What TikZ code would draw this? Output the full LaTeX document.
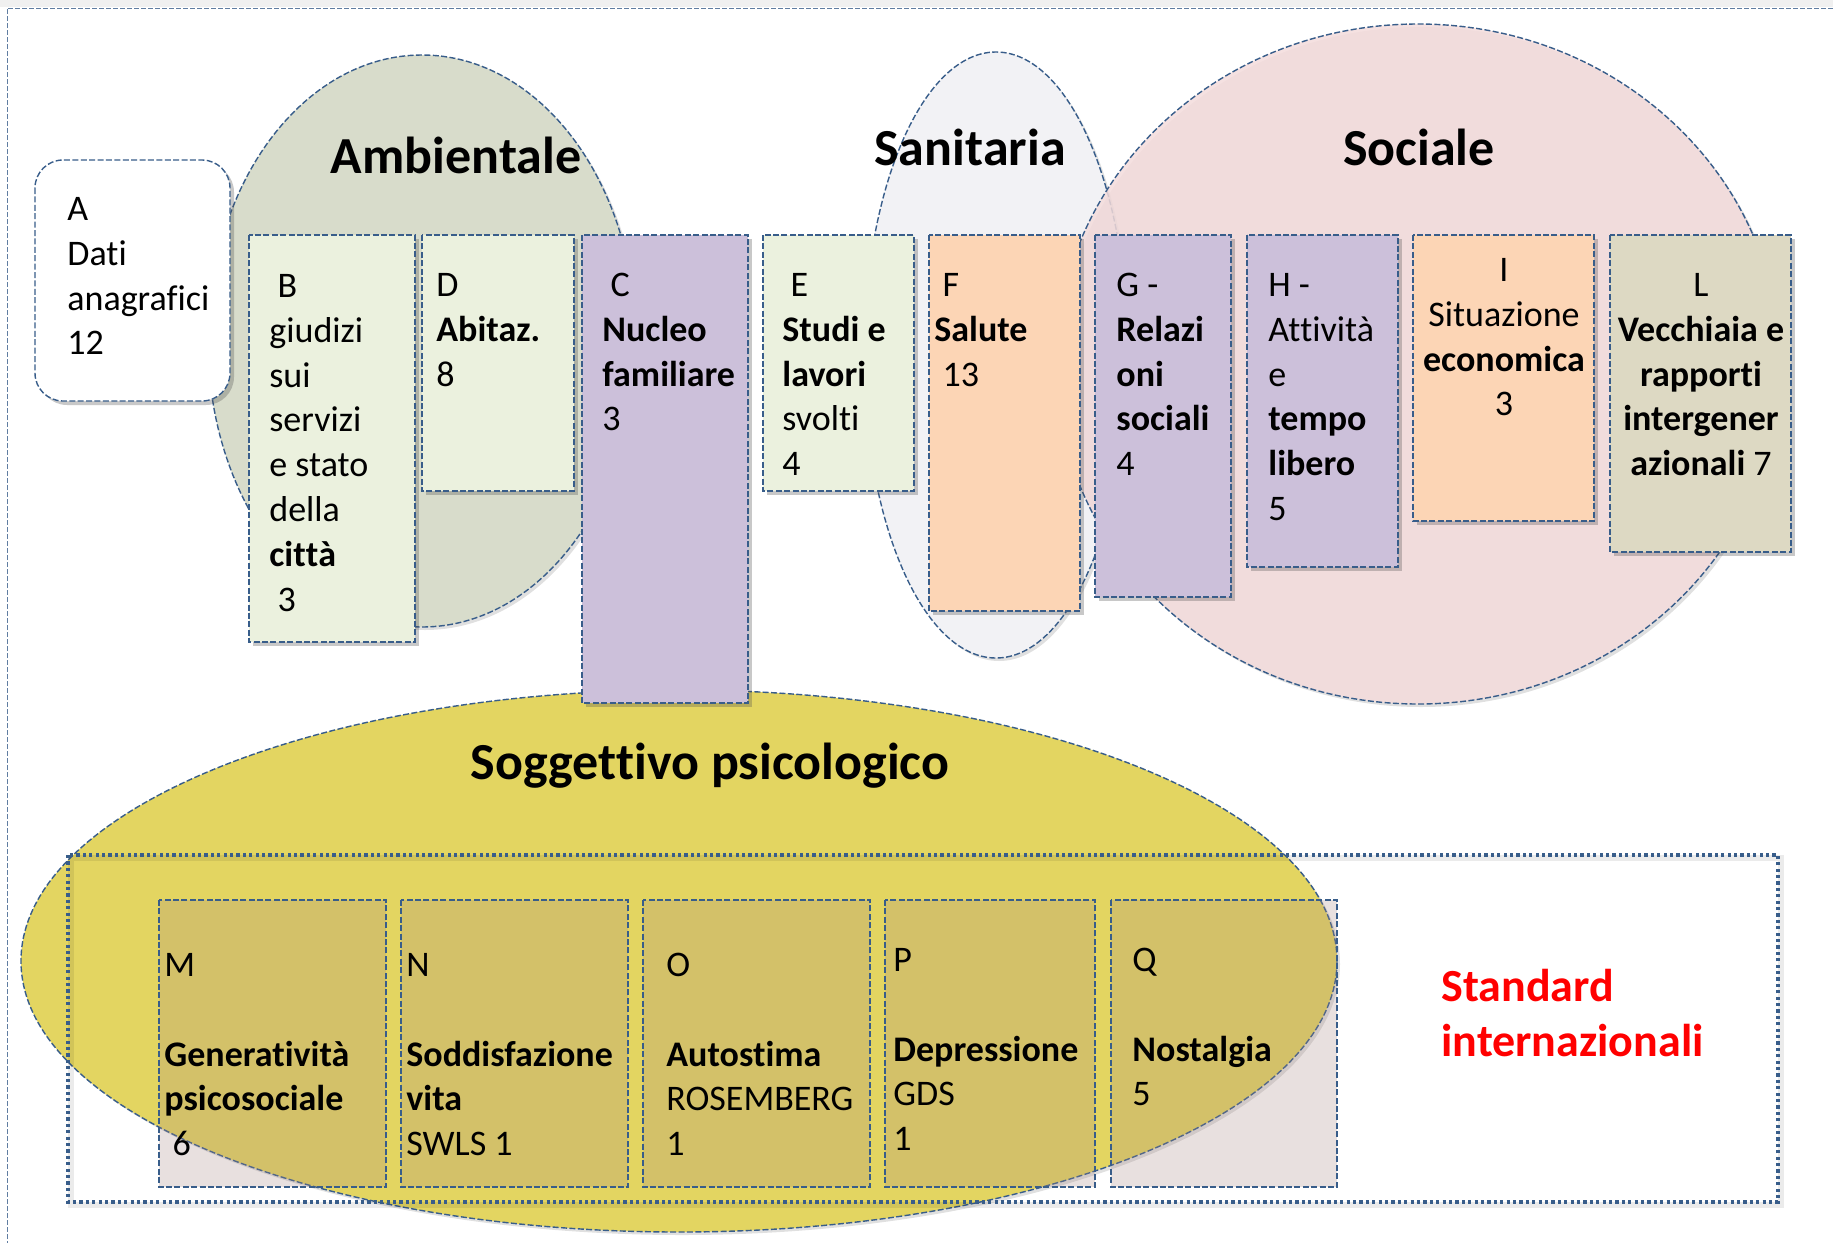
\documentclass[tikz,border=0pt]{standalone}
\usepackage{fontspec}
\setmainfont[Ligatures=NoCommon]{Carlito}
\usetikzlibrary{shadows}
\definecolor{bordc}{RGB}{56,93,138}
\definecolor{ambc}{RGB}{216,220,203}
\definecolor{sanc}{RGB}{242,242,245}
\definecolor{socc}{RGB}{244,220,220}
\definecolor{yelc}{RGB}{227,213,97}
\definecolor{grnc}{RGB}{235,241,222}
\definecolor{purc}{RGB}{204,192,218}
\definecolor{peac}{RGB}{252,213,181}
\definecolor{tanc}{RGB}{221,217,195}
\definecolor{botc}{RGB}{167,135,131}
\definecolor{topband}{RGB}{240,240,240}
\newcommand\st{\rule{0pt}{15pt}}
\newcommand\nl{\kern0pt }
\begin{document}
\begin{tikzpicture}[x=0.5pt,y=-0.5pt,
  bd/.style={draw=bordc, line width=0.7pt, dash pattern=on 3pt off 1.2pt},
  boxsh/.style={bd, drop shadow={shadow xshift=2pt, shadow yshift=-2pt, opacity=0.3, fill=black!70}},
  ellsh/.style={bd, drop shadow={shadow xshift=1.5pt, shadow yshift=-1.5pt, opacity=0.12, fill=black}},
  tx/.style={anchor=north west, inner sep=0pt, align=left, font=\fontsize{18}{22.4}\selectfont},
  txc/.style={tx, anchor=north, align=center},
  title/.style={inner sep=0pt, anchor=base, font=\fontsize{26}{30}\selectfont\bfseries}]
\useasboundingbox (0,0) rectangle (1833,1243);
\fill[white] (0,0) rectangle (1833,1243);
\fill[topband] (0,0) rectangle (1833,7);
\draw[draw=bordc!80, line width=0.5pt, dash pattern=on 2.5pt off 1pt] (7,1260) -- (7,8) -- (1850,8);

% ellipses
\path[ellsh, fill=ambc] (422,341) ellipse [x radius=107pt, y radius=143pt];
\path[ellsh, fill=sanc] (996,355) ellipse [x radius=66pt, y radius=151.5pt];
\path[ellsh, fill=socc, fill opacity=0.85] (1418,364) ellipse [x radius=181pt, y radius=170pt];
\path[ellsh, fill=yelc] (679,961) ellipse [x radius=329pt, y radius=135.5pt];

% top boxes
\draw[boxsh, fill=white, rounded corners=14pt] (35,160) rectangle (230,401);
\draw[boxsh, fill=grnc] (249,235) rectangle (415,642);
\draw[boxsh, fill=grnc] (422,235) rectangle (574,491);
\draw[boxsh, fill=purc] (582,235) rectangle (748,703);
\draw[boxsh, fill=grnc] (763,235) rectangle (914,491);
\draw[boxsh, fill=peac] (929,235) rectangle (1080,611);
\draw[boxsh, fill=purc] (1095,235) rectangle (1231,597);
\draw[boxsh, fill=purc] (1247,235) rectangle (1398,567);
\draw[boxsh, fill=peac] (1413,235) rectangle (1594,521);
\draw[boxsh, fill=tanc] (1610,235) rectangle (1791,552);

% bottom boxes
\draw[bd, fill=botc, fill opacity=0.25] (159,900) rectangle (386,1187);
\draw[bd, fill=botc, fill opacity=0.25] (401,900) rectangle (628,1187);
\draw[bd, fill=botc, fill opacity=0.25] (643,900) rectangle (870,1187);
\draw[bd, fill=botc, fill opacity=0.25] (885,900) rectangle (1095,1187);
\draw[bd, fill=botc, fill opacity=0.25] (1111,900) rectangle (1337,1187);

% standard frame
\draw[draw=black, opacity=0.08, line width=3pt] (71,858) rectangle (1781,1205);
\draw[draw=bordc, line width=1.6pt, dash pattern=on 1.6pt off 1.6pt] (68,855) rectangle (1778,1202);

% titles
\node[title] (tamb) at (456,173) {Ambientale};
\node[title] (tsan) at (970,165) {Sanit\nl aria};
\node[title] (tsoc) at (1419,165) {Sociale};
\node[title] (tsog) at (710,779) {Sogget\nl t\nl ivo psicologico};
\node[anchor=north west, inner sep=0pt, align=left, text=red,
      font=\fontsize{23}{27.5}\selectfont\bfseries] (tstd) at (1441,961)
      {\rule{0pt}{20pt}Standard\\internazionali};

% box texts
\node[tx] (ta) at (67,190) {\st A\\Dat\nl i\\anagrafici\\12};
\node[tx] (tb) at (269,267) {\st\ B\\giudizi\\sui\\servizi\\e stato\\della\\\textbf{cit\nl t\nl à}\\\ 3};
\node[tx] (td) at (436,266) {\st D\\\textbf{Abitaz.}\\8};
\node[tx] (tc) at (602,266) {\st\ C\\\textbf{Nucleo}\\\textbf{familiare}\\3};
\node[tx] (te) at (782,266) {\st\ E\\\textbf{Studi e}\\\textbf{lavori}\\svolt\nl i\\4};
\node[tx] (tf) at (934,266) {\st\ F\\\textbf{Salute}\\\ 13};
\node[tx] (tg) at (1116,266) {\st G -\\\textbf{Relazi}\\\textbf{oni}\\\textbf{sociali}\\4};
\node[tx] (th) at (1268,266) {\st H -\\At\nl t\nl ività\\e\\\textbf{tempo}\\\textbf{libero}\\5};
\node[txc] (ti) at (1504,251) {\st I\\Situazione\\\textbf{economica}\\3};
\node[txc] (tl) at (1701,266) {\st L\\\textbf{Vecchiaia e}\\\textbf{rapport\nl i}\\\textbf{intergener}\\\textbf{azionali} 7};

\node[tx] (tm) at (164,946) {\st M\\[22.4pt]\textbf{Generat\nl ività}\\\textbf{psicosociale}\\\ 6};
\node[tx] (tn) at (406,946) {\st N\\[22.4pt]\textbf{Soddisfazione}\\\textbf{vita}\\SWLS 1};
\node[tx] (to) at (666,946) {\st O\\[22.4pt]\textbf{Autostima}\\ROSEMBERG\\1};
\node[tx] (tp) at (893,941) {\st P\\[22.4pt]\textbf{Depressione}\\GDS\\1};
\node[tx] (tq) at (1132,941) {\st Q\\[22.4pt]\textbf{Nostalgia}\\5};
\end{tikzpicture}
\end{document}
